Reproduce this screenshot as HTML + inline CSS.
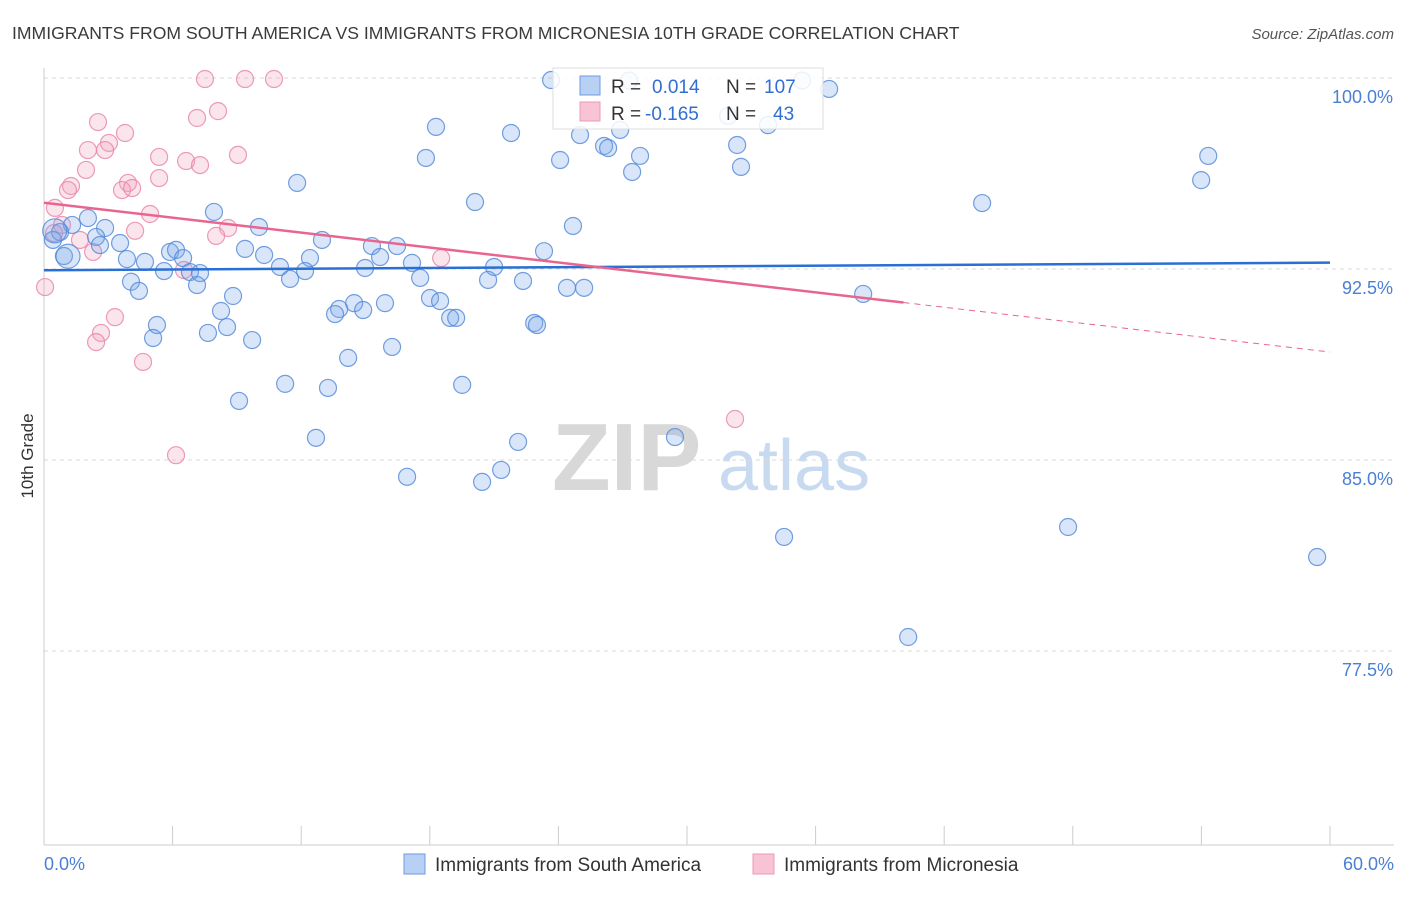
<!DOCTYPE html>
<html><head><meta charset="utf-8"><style>
body{margin:0;background:#fff;font-family:"Liberation Sans",sans-serif;}
svg text{font-family:"Liberation Sans",sans-serif;}
</style></head><body>
<svg id="chart" width="1406" height="892" xmlns="http://www.w3.org/2000/svg">
<text x="12" y="39" font-size="17.6" fill="#3a3a3a">IMMIGRANTS FROM SOUTH AMERICA VS IMMIGRANTS FROM MICRONESIA 10TH GRADE CORRELATION CHART</text>
<text x="1394" y="39" font-size="15" fill="#555" text-anchor="end" font-style="italic">Source: ZipAtlas.com</text>
<g>
<text x="552" y="490" font-size="96" fill="#d8d8d8" font-family="Liberation Serif" font-weight="bold">ZIP</text>
<text x="718" y="490" font-size="72" fill="#c8daf0">atlas</text>
</g>
<g id="grid"></g>
<g id="axes"></g>
<g id="pts"></g>
<g id="lines"></g>
<text transform="translate(33,456) rotate(-90)" font-size="17" fill="#333" text-anchor="middle">10th Grade</text>
<g>
<rect x="553" y="68" width="270" height="61" fill="rgba(255,255,255,0.85)" stroke="#ddd"/>
<rect x="580" y="76" width="20" height="19" fill="#b7d0f3" stroke="#6d9be0"/>
<rect x="580" y="102" width="20" height="19" fill="#f8c3d4" stroke="#ec9ab6"/>
<text x="611" y="93" font-size="19" fill="#333">R =</text>
<text x="652" y="93" font-size="19" fill="#2f6fd0">0.014</text>
<text x="726" y="93" font-size="19" fill="#333">N =</text>
<text x="764" y="93" font-size="19" fill="#2f6fd0">107</text>
<text x="611" y="120" font-size="19" fill="#333">R =</text>
<text x="645" y="120" font-size="19" fill="#2f6fd0">-0.165</text>
<text x="726" y="120" font-size="19" fill="#333">N =</text>
<text x="773" y="120" font-size="19" fill="#2f6fd0">43</text>
</g>
<g>
<rect x="404" y="854" width="21" height="20" fill="#b7d0f3" stroke="#6d9be0"/>
<text x="435" y="871" font-size="19" fill="#333">Immigrants from South America</text>
<rect x="753" y="854" width="21" height="20" fill="#f8c3d4" stroke="#ec9ab6"/>
<text x="784" y="871" font-size="19" fill="#333">Immigrants from Micronesia</text>
</g>
</svg>
<script>
const yTicks=[100,92.5,85,77.5];
const yTickLabels=["100.0%","92.5%","85.0%","77.5%"];
const xTickLabels=["0.0%","60.0%"];
const blueX=[23.66,27.3,35.37,36.63,18.29,21.79,25.01,26.88,33.78,32.34,26.13,26.32,27.81,24.08,17.82,27.44,32.52,11.81,20.11,7.93,2.05,1.31,2.85,10.03,24.68,0.75,2.43,3.55,0.42,12.97,2.61,15.3,16.47,9.38,5.88,6.16,23.33,0.93,3.87,4.71,6.49,10.27,12.41,15.68,17.17,21.0,11.01,5.6,6.81,7.28,12.18,14.98,17.55,11.48,20.72,22.35,4.06,4.43,7.14,24.4,25.2,8.82,18.01,18.48,14.47,15.91,13.77,14.89,13.58,8.26,18.95,19.23,5.27,8.54,22.87,23.0,7.65,5.09,9.71,16.24,14.19,11.25,13.25,19.51,9.1,12.69,22.12,29.44,16.94,21.33,20.44,34.53,47.78,59.4,40.32,38.22,43.77,54.32,53.99,31.92,1.12,0.5];
const blueY=[99.92,99.9,99.9,99.57,98.08,97.84,97.76,97.96,98.15,97.37,97.33,97.25,96.94,96.78,96.86,96.31,96.51,95.88,95.13,94.74,94.5,94.23,94.11,94.15,94.19,93.95,93.76,93.52,93.64,93.64,93.44,93.4,93.4,93.29,93.17,93.25,93.2,93.01,92.89,92.78,92.93,93.05,92.93,92.97,92.74,92.58,92.58,92.42,92.38,92.34,92.42,92.54,92.15,92.11,92.07,92.03,92.0,91.64,91.87,91.76,91.76,91.44,91.36,91.24,91.16,91.16,90.93,90.89,90.73,90.85,90.58,90.58,90.3,90.22,90.38,90.3,89.99,89.79,89.71,89.44,89.01,87.99,87.83,87.95,87.32,85.87,85.71,85.9,84.34,84.61,84.14,81.98,82.37,81.19,78.05,91.52,95.09,96.94,95.99,98.51,93.0,94.0];
const pinkX=[7.51,9.38,10.73,8.12,7.14,2.52,3.78,3.03,2.05,2.85,9.05,5.37,6.63,7.28,1.96,5.37,3.92,1.26,1.12,3.64,4.11,0.51,4.95,8.59,8.03,4.25,0.84,0.47,1.68,2.29,18.53,6.53,0.05,2.66,3.31,2.43,4.62,32.24,6.16];
const pinkY=[99.96,99.96,99.96,98.7,98.43,98.27,97.84,97.45,97.17,97.17,96.98,96.9,96.74,96.58,96.39,96.07,95.88,95.76,95.6,95.6,95.68,94.9,94.66,94.11,93.8,94.0,94.23,93.91,93.64,93.17,92.93,92.46,91.79,89.99,90.61,89.63,88.85,86.61,85.19];
const blueTrend=[92.45,92.75];
const pinkTrend=[95.1,89.24];
const pinkSolidEnd=40.1;

const NS="http://www.w3.org/2000/svg";
const X=v=>44+v*21.433;
const Y=v=>78+(100-v)*25.467;
function mk(t,a,p){const e=document.createElementNS(NS,t);for(const k in a)e.setAttribute(k,a[k]);p.appendChild(e);return e;}
const grid=document.getElementById('grid'),axes=document.getElementById('axes');
yTicks.forEach((t,i)=>{
  const g=mk('line',{x1:44,x2:1394,y1:Y(t),y2:Y(t),stroke:'#d8d8d8','stroke-dasharray':'4,4'},grid);
  
  
  const l=mk('text',{x:1393,y:Y(t)+25,'font-size':18,fill:'#4a7fd4','text-anchor':'end'},axes);
  l.textContent=yTickLabels[i];
  
  
});
mk('line',{x1:44,x2:44,y1:68,y2:845,stroke:'#ccc'},axes);
mk('line',{x1:44,x2:1394,y1:845,y2:845,stroke:'#ccc'},axes);
for(let i=0;i<=10;i++){
  const t=mk('line',{x1:X(i*6),x2:X(i*6),y1:826,y2:845,stroke:'#ccc'},axes);
  
  
}
const xl0=mk('text',{x:44,y:870,'font-size':18,fill:'#4a7fd4'},axes);xl0.textContent=xTickLabels[0];


const xl1=mk('text',{x:1394,y:870,'font-size':18,fill:'#4a7fd4','text-anchor':'end'},axes);xl1.textContent=xTickLabels[1];


const pts=document.getElementById('pts');
pinkX.forEach((x,i)=>{
  const c=mk('circle',{cx:X(x),cy:Y(pinkY[i]),r:8.5,fill:'rgba(242,160,188,0.28)',stroke:'rgba(232,130,166,0.8)','stroke-width':1.2},pts);
  
  
});
blueX.forEach((x,i)=>{
  const big=i>=blueX.length-2;
  const c=mk('circle',{cx:X(x),cy:Y(blueY[i]),r:big?12:8.5,fill:'rgba(120,165,232,0.28)',stroke:'rgba(80,135,215,0.8)','stroke-width':1.2},pts);
  
  
});
const lines=document.getElementById('lines');
const bl=mk('line',{x1:X(0),y1:Y(blueTrend[0]),x2:X(60),y2:Y(blueTrend[1]),stroke:'#2a6fd6','stroke-width':2.5},lines);


const pAt=v=>pinkTrend[0]+(pinkTrend[1]-pinkTrend[0])*v/60;
const pl=mk('line',{x1:X(0),y1:Y(pinkTrend[0]),x2:X(pinkSolidEnd),y2:Y(pAt(pinkSolidEnd)),stroke:'#e8658f','stroke-width':2.5},lines);


const pd=mk('line',{x1:X(pinkSolidEnd),y1:Y(pAt(pinkSolidEnd)),x2:X(60),y2:Y(pinkTrend[1]),stroke:'#e8658f','stroke-width':1,'stroke-dasharray':'6,5'},lines);


</script>
</body></html>
